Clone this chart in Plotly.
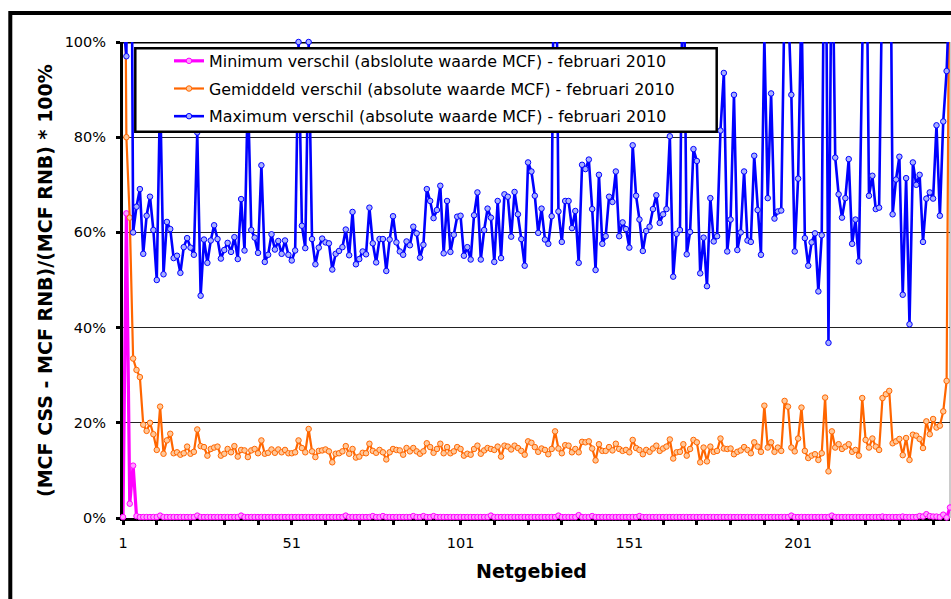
import plotly.graph_objects as go

# ---------------- data ----------------
netgebied = list(range(1, 247))

minimum = [
    0.2, 64.0, 3.0, 11.0, 0.4, 0.2, 0.2, 0.2, 0.2, 0.2,
    0.2, 0.5, 0.2, 0.2, 0.2, 0.2, 0.2, 0.2, 0.2, 0.2,
    0.2, 0.2, 0.5, 0.2, 0.2, 0.2, 0.2, 0.2, 0.2, 0.2,
    0.2, 0.2, 0.2, 0.2, 0.2, 0.5, 0.2, 0.2, 0.2, 0.2,
    0.2, 0.2, 0.2, 0.2, 0.2, 0.2, 0.2, 0.2, 0.2, 0.2,
    0.2, 0.2, 0.2, 0.2, 0.2, 0.2, 0.2, 0.2, 0.2, 0.2,
    0.2, 0.2, 0.2, 0.2, 0.2, 0.2, 0.5, 0.2, 0.2, 0.2,
    0.2, 0.2, 0.2, 0.2, 0.4, 0.2, 0.2, 0.4, 0.2, 0.2,
    0.2, 0.2, 0.2, 0.2, 0.2, 0.2, 0.4, 0.2, 0.2, 0.4,
    0.2, 0.2, 0.4, 0.2, 0.2, 0.2, 0.2, 0.2, 0.2, 0.2,
    0.2, 0.2, 0.2, 0.2, 0.2, 0.2, 0.2, 0.2, 0.2, 0.5,
    0.2, 0.2, 0.2, 0.2, 0.2, 0.2, 0.2, 0.2, 0.2, 0.2,
    0.2, 0.2, 0.2, 0.2, 0.2, 0.2, 0.2, 0.2, 0.2, 0.5,
    0.2, 0.2, 0.2, 0.2, 0.2, 0.6, 0.2, 0.2, 0.2, 0.4,
    0.2, 0.2, 0.2, 0.2, 0.2, 0.2, 0.2, 0.2, 0.2, 0.2,
    0.2, 0.2, 0.2, 0.4, 0.2, 0.2, 0.2, 0.2, 0.2, 0.2,
    0.2, 0.2, 0.2, 0.2, 0.2, 0.2, 0.2, 0.2, 0.2, 0.2,
    0.2, 0.2, 0.2, 0.2, 0.2, 0.2, 0.2, 0.2, 0.2, 0.2,
    0.2, 0.2, 0.2, 0.2, 0.2, 0.2, 0.2, 0.2, 0.2, 0.2,
    0.2, 0.2, 0.2, 0.2, 0.2, 0.2, 0.2, 0.2, 0.5, 0.2,
    0.2, 0.2, 0.2, 0.2, 0.2, 0.2, 0.2, 0.2, 0.2, 0.2,
    0.5, 0.2, 0.2, 0.2, 0.2, 0.2, 0.2, 0.2, 0.2, 0.2,
    0.2, 0.2, 0.2, 0.2, 0.2, 0.3, 0.2, 0.2, 0.2, 0.2,
    0.2, 0.3, 0.2, 0.2, 0.2, 0.2, 0.4, 0.3, 0.8, 0.4,
    0.3, 0.3, 0.2, 0.7, 0.1, 2.2,
]

gemiddeld = [
    190.0, 80.0, 63.1, 33.5, 31.1, 29.6, 19.6, 18.3, 20.0, 17.6,
    14.3, 23.4, 13.5, 16.3, 17.7, 13.6, 13.8, 13.3, 13.6, 15.0,
    13.5, 13.9, 18.6, 15.1, 14.9, 13.1, 14.5, 14.8, 15.0, 13.1,
    13.5, 14.5, 13.8, 15.1, 12.9, 14.3, 14.2, 12.8, 14.2, 14.5,
    13.6, 16.3, 13.5, 13.7, 14.4, 13.7, 14.4, 13.8, 14.3, 13.6,
    13.6, 13.8, 16.3, 14.7, 13.8, 18.7, 14.0, 12.8, 14.1, 14.2,
    14.4, 14.0, 11.7, 13.5, 13.6, 14.0, 15.1, 13.5, 14.5, 12.7,
    12.9, 13.7, 13.6, 15.6, 14.1, 13.7, 14.3, 13.8, 12.3, 13.8,
    14.5, 14.3, 14.2, 13.3, 14.7, 14.0, 14.7, 14.0, 13.5, 14.0,
    15.7, 14.9, 13.7, 14.5, 15.6, 13.6, 14.9, 13.6, 14.0, 14.9,
    14.5, 13.1, 13.5, 13.3, 14.5, 15.2, 13.5, 14.2, 14.7, 14.5,
    14.3, 15.0, 12.9, 15.2, 15.0, 14.4, 15.2, 14.7, 14.1, 13.3,
    16.1, 15.8, 14.9, 13.9, 14.6, 14.3, 13.4, 14.5, 18.2, 14.6,
    13.6, 15.3, 15.2, 13.8, 14.5, 13.8, 16.0, 15.9, 16.1, 14.6,
    12.1, 15.5, 14.1, 14.1, 14.9, 14.2, 15.6, 14.5, 14.1, 14.3,
    13.8, 16.4, 14.7, 14.3, 13.4, 14.3, 13.9, 14.6, 15.2, 14.1,
    14.6, 15.0, 16.5, 12.5, 13.8, 13.9, 15.5, 13.1, 14.5, 16.4,
    15.9, 11.7, 14.8, 11.9, 15.0, 13.9, 14.1, 16.7, 14.6, 14.5,
    14.6, 13.4, 13.9, 14.2, 14.9, 14.3, 13.6, 15.9, 15.0, 13.9,
    23.6, 14.8, 15.9, 13.9, 14.8, 14.1, 24.6, 23.4, 14.8, 14.0,
    16.7, 23.2, 14.1, 12.6, 13.1, 13.4, 12.2, 13.6, 25.3, 9.8,
    18.2, 14.8, 15.5, 14.5, 15.0, 15.5, 13.9, 14.3, 13.1, 25.2,
    16.4, 14.8, 16.7, 15.0, 14.3, 25.2, 26.0, 26.7, 15.7, 16.1,
    16.6, 13.2, 16.8, 12.2, 17.5, 17.3, 16.6, 14.7, 20.3, 17.6,
    20.8, 19.0, 19.4, 22.4, 28.8, 145.0,
]

maximum = [
    105.0, 97.0, 200.0, 60.0, 65.4, 69.1, 55.5, 63.5, 67.5, 60.5,
    50.0, 90.0, 51.2, 62.2, 60.7, 54.6, 55.1, 51.5, 56.9, 58.8,
    56.8, 55.3, 81.0, 46.7, 58.5, 53.6, 58.3, 61.5, 58.6, 54.5,
    56.3, 57.8, 55.9, 59.0, 54.4, 67.0, 56.2, 90.0, 60.5, 58.9,
    55.7, 74.1, 53.8, 55.3, 59.6, 56.4, 58.2, 55.5, 58.3, 55.3,
    54.1, 56.2, 100.0, 61.4, 56.7, 100.0, 58.6, 53.3, 56.8, 58.7,
    57.9, 57.7, 52.2, 55.5, 56.1, 56.9, 60.6, 55.2, 64.3, 53.3,
    54.4, 56.0, 55.4, 65.2, 57.7, 53.7, 58.6, 58.6, 51.9, 58.5,
    63.4, 57.9, 56.0, 55.3, 58.1, 57.3, 61.2, 59.8, 54.7, 57.4,
    69.1, 66.6, 63.0, 64.7, 69.8, 55.6, 66.6, 55.9, 59.5, 63.3,
    63.5, 55.1, 56.9, 54.3, 63.6, 68.4, 54.3, 60.5, 65.0, 63.1,
    53.8, 66.6, 54.6, 68.0, 67.5, 59.1, 68.5, 63.8, 58.6, 53.0,
    74.7, 72.8, 67.7, 59.9, 65.0, 58.5, 57.6, 63.4, 150.0, 64.4,
    58.0, 66.6, 66.6, 60.9, 64.5, 53.6, 74.2, 73.3, 75.3, 64.9,
    52.1, 72.1, 57.6, 59.2, 67.5, 66.4, 72.8, 59.2, 62.1, 60.7,
    56.8, 78.3, 67.7, 62.7, 56.1, 60.3, 61.2, 64.9, 67.8, 62.0,
    63.8, 64.9, 80.2, 50.7, 59.7, 60.5, 130.0, 55.4, 60.1, 77.5,
    75.0, 51.4, 58.9, 48.7, 67.2, 58.1, 59.2, 81.4, 93.5, 56.0,
    62.7, 88.9, 56.3, 60.0, 72.8, 58.3, 58.0, 76.1, 64.7, 55.3,
    101.0, 67.2, 89.2, 62.9, 64.4, 64.6, 110.0, 109.0, 88.9, 56.0,
    71.3, 109.0, 58.8, 53.0, 57.9, 59.8, 47.6, 59.4, 150.0, 36.8,
    130.0, 75.7, 68.0, 63.1, 67.2, 75.4, 57.6, 62.7, 53.9, 112.0,
    141.0, 67.7, 71.9, 64.9, 65.2, 118.0, 130.0, 158.0, 63.8, 71.1,
    75.9, 46.9, 71.4, 40.7, 74.7, 70.0, 72.1, 58.0, 67.1, 68.4,
    67.1, 82.5, 63.5, 83.3, 93.9, 113.0,
]

series_names = [
    "Minimum verschil (abslolute waarde MCF) - februari 2010",
    "Gemiddeld verschil (absolute waarde MCF) - februari 2010",
    "Maximum verschil (absolute waarde MCF) - februari 2010",
]
x_tick_labels = ["1", "51", "101", "151", "201"]
y_title = "(MCF CSS - MCF RNB)/(MCF RNB) * 100%"
x_title = "Netgebied"

# ---------------- layout geometry (pixels) ----------------
FW, FH = 951, 599
L, R, T, B = 123, 1, 42, 81
PW = FW - L - R
PH = FH - T - B


def xp(px):
    return (px - L) / PW


def yp(py):
    return (T + PH - py) / PH


FONT = "DejaVu Sans, Verdana, sans-serif"

styles = [
    dict(color="#FF00FF", width=3.2, fill="#FF9CFF"),
    dict(color="#FF6600", width=2.2, fill="#FFC89A"),
    dict(color="#0000FF", width=2.6, fill="#A8B0FF"),
]

fig = go.Figure()
for name, vals, st, grp in zip(series_names, [minimum, gemiddeld, maximum], styles, ["a", "b", "c"]):
    fig.add_trace(go.Scatter(
        x=netgebied, y=vals, name=name, mode="lines+markers",
        line=dict(color=st["color"], width=st["width"]),
        marker=dict(symbol="circle", size=5.5, color=st["fill"],
                    line=dict(color=st["color"], width=1)),
        cliponaxis=False, legendgroup=grp,
    ))

fig.update_layout(
    width=FW, height=FH,
    margin=dict(l=L, r=R, t=T, b=B, pad=0),
    paper_bgcolor="white", plot_bgcolor="white",
    font=dict(family=FONT, size=14, color="black"),
    showlegend=True,
    legend=dict(
        x=xp(169), y=yp(44), xanchor="left", yanchor="top",
        bgcolor="rgba(0,0,0,0)", borderwidth=0,
        font=dict(family=FONT, size=15.9, color="black"),
        tracegroupgap=4, itemwidth=30,
    ),
    xaxis=dict(
        range=[1, 246], tickmode="linear", tick0=1, dtick=50,
        ticks="outside", ticklen=4, tickwidth=3, tickcolor="black",
        showline=True, linewidth=3, linecolor="black",
        showgrid=False, zeroline=False, layer="below traces",
        ticklabelstandoff=6,
        tickfont=dict(family=FONT, size=14.5, color="black"),
        minor=dict(tickmode="linear", tick0=1, dtick=10, ticks="outside",
                   ticklen=4, tickwidth=3, tickcolor="black", showgrid=False),
    ),
    yaxis=dict(
        range=[0, 100], tickmode="linear", tick0=0, dtick=20, ticksuffix="%",
        ticks="outside", ticklen=4, tickwidth=3, tickcolor="black",
        showline=True, linewidth=3, linecolor="black",
        showgrid=True, gridcolor="#222222", gridwidth=1,
        zeroline=False, layer="below traces",
        ticklabelstandoff=7,
        tickfont=dict(family=FONT, size=14.5, color="black"),
    ),
)

shapes = [
    # top border of plot area
    dict(type="line", xref="paper", yref="y", x0=0, x1=1, y0=100, y1=100,
         line=dict(color="black", width=3), layer="between"),
    # right edge of plot area
    dict(type="line", xref="paper", yref="paper", x0=1, x1=1, y0=0, y1=1,
         line=dict(color="#999999", width=1), layer="between"),
    # legend box
    dict(type="rect", xref="paper", yref="paper",
         x0=xp(135.3), x1=xp(716.7), y0=yp(131.7), y1=yp(48.3),
         line=dict(color="black", width=2.5), fillcolor="white", layer="above"),
    # outer chart border (cropped)
    dict(type="rect", xref="paper", yref="paper",
         x0=xp(10.3), x1=xp(1200), y0=yp(900), y1=yp(13),
         line=dict(color="black", width=4), fillcolor="rgba(0,0,0,0)", layer="above"),
]
fig.update_layout(shapes=shapes)

fig.add_annotation(
    text="<b>" + y_title + "</b>", xref="paper", yref="paper",
    x=xp(45), y=yp(281), xanchor="center", yanchor="middle",
    textangle=-90, showarrow=False,
    font=dict(family=FONT, size=19, color="black"),
)
fig.add_annotation(
    text="<b>" + x_title + "</b>", xref="paper", yref="paper",
    x=xp(531), y=yp(571), xanchor="center", yanchor="middle",
    showarrow=False, font=dict(family=FONT, size=19, color="black"),
)

fig.write_html("out.html", config={"displayModeBar": False},
               post_script="document.body.style.margin='0px';")
